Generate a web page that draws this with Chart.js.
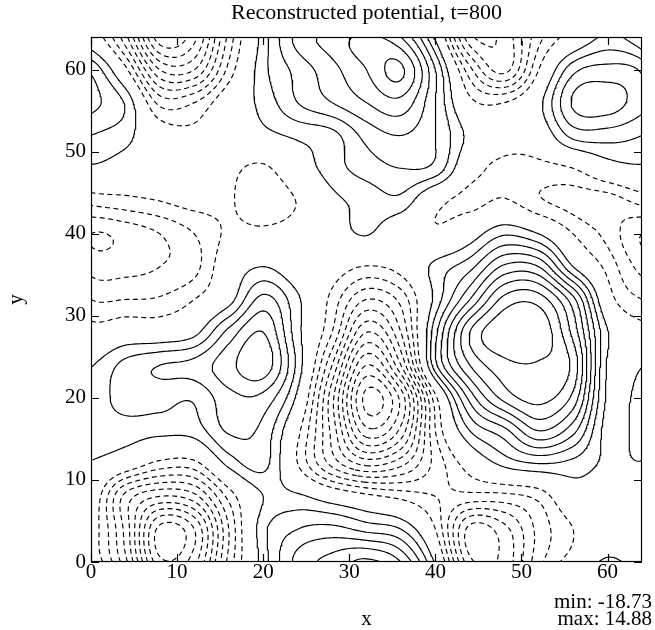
<!DOCTYPE html>
<html>
<head>
<meta charset="utf-8">
<script src="https://cdn.jsdelivr.net/npm/chart.js@4.4.1/dist/chart.umd.min.js"></script>
<style>html,body{margin:0;padding:0;background:#fff}</style>
</head>
<body>
<canvas id="c" width="655" height="630"></canvas>
<script>
// ---- texts ----
const titleText = "Reconstructed potential, t=800";
const xAxisLabel = "x";
const yAxisLabel = "y";
const minLabel = "min: -18.73";
const maxLabel = "max: 14.88";

// ---- axes ----
const xTickValues = [0, 10, 20, 30, 40, 50, 60];
const yTickValues = [0, 10, 20, 30, 40, 50, 60];
const domainSize = 64;

// ---- potential on a periodic grid (x = 0,4,...,60) ----
const gridX = [0, 4, 8, 12, 16, 20, 24, 28, 32, 36, 40, 44, 48, 52, 56, 60];
const gridY = [0, 4, 8, 12, 16, 20, 24, 28, 32, 36, 40, 44, 48, 52, 56, 60];
const phi_y00 = [0, -5.5, -14.5, -12.5, -4, 2.2, 6.5, 8, 9.3, 7.5, 1.2, -8.5, -8.5, -3.5, -0.5, 1.8];
const phi_y04 = [-0.5, -6.5, -15.5, -13.5, -4.5, 2.5, 4.5, 5, 4, 3, -1.5, -9.5, -8, -4, -1.5, 0.5];
const phi_y08 = [0, -6.5, -9, -8, -2.5, 1.5, 1.8, 0.3, -1, -2, -3, -3.5, -3.5, -2.5, 0.5, 0.5];
const phi_y12 = [1.4, 0, -2, -2, 2, 3.5, -1.5, -6.5, -9.5, -8, -4, -0.5, 2, 3, 2.5, 1.2];
const phi_y16 = [2.2, 2.3, 2, 2.2, 4.7, 4, -1, -8, -16, -13, -3, 3, 5.5, 9, 6.5, 0.9];
const phi_y20 = [2.2, 3.5, 3.5, 3.2, 5.5, 5.5, 1, -8.5, -18.5, -14.5, -2, 6.5, 11, 12.5, 10, 1.2];
const phi_y24 = [1.4, 3.5, 4.5, 5, 7, 8.5, 2.5, -6, -15, -9, 4, 10.5, 13, 13.3, 11.5, 1.3];
const phi_y28 = [-0.7, 0, 0, 1, 5, 7.5, 2, -3, -10.5, -6, 4, 12, 14.8, 14.8, 10, 1.6];
const phi_y32 = [-3, -3, -2.8, -1.5, 0.8, 5, 1.8, -2, -6, -4, 2, 7.5, 12.5, 12.8, 8, -0.5];
const phi_y36 = [-5, -5, -4.5, -3.5, 0, 1.5, 0, -0.5, -1.6, -0.8, 2, 4, 7.8, 7.5, 1.5, -2];
const phi_y40 = [-6, -5.5, -4.5, -3, -1.2, -1.0, -0.6, 0.5, 1.6, -0.3, -1.2, 0.5, 2.8, 1.5, -1.5, -3.5];
const phi_y44 = [-2.5, -2, -1.5, -0.9, -1.3, -2.6, -1.4, 1, 2, 2.5, -0.8, -2, -1.3, -2.8, -3.5, -3.8];
const phi_y48 = [1.2, 0.5, 0, 0, -1.0, -1.8, 0.3, 2.3, 3.7, 4.5, 4, -0.5, -2, -2, -1.5, 0.5];
const phi_y52 = [3, 2, -0.3, -1, 0, 1, 1.8, 2.5, 5, 6, 4.5, 1, -0.5, 0, 3.5, 3.7];
const phi_y56 = [5, 2.8, -3.5, -3, 0, 2, 4.5, 6, 7.5, 8.5, 4.5, -1, -1.5, 1, 6.2, 6.8];
const phi_y60 = [4.2, -1, -9, -9, -2.5, 2.5, 5, 7, 9, 10.8, 4.5, -4, -8, -1.5, 4, 5];

// ---- contour levels ----
const positiveLevels = [1.5, 3, 4.5, 6, 7.5, 9, 10.5, 12, 13.5];
const negativeLevels = [-1.5, -3, -4.5, -6, -7.5, -9, -10.5, -12, -13.5, -15, -16.5, -18];

// ================= contouring =================
const G = [phi_y00, phi_y04, phi_y08, phi_y12, phi_y16, phi_y20, phi_y24, phi_y28,
           phi_y32, phi_y36, phi_y40, phi_y44, phi_y48, phi_y52, phi_y56, phi_y60];
const P = gridX.length, H = gridX[1] - gridX[0];
const md = k => ((k % P) + P) % P;
function cr(p0, p1, p2, p3, t) {
  return 0.5 * (2 * p1 + (-p0 + p2) * t + (2 * p0 - 5 * p1 + 4 * p2 - p3) * t * t + (-p0 + 3 * p1 - 3 * p2 + p3) * t * t * t);
}
function field(x, y) {
  const u = x / H, v = y / H, i = Math.floor(u), j = Math.floor(v), tx = u - i, ty = v - j;
  const r = [];
  for (let m = -1; m <= 2; m++) {
    const row = G[md(j + m)];
    r.push(cr(row[md(i - 1)], row[md(i)], row[md(i + 1)], row[md(i + 2)], tx));
  }
  return cr(r[0], r[1], r[2], r[3], ty);
}
const N = 256, W = N + 1, hs = domainSize / N;
const F = new Float64Array(W * W);
for (let j = 0; j < W; j++) for (let i = 0; i < W; i++) F[j * W + i] = field(i * hs, j * hs);

function contour(L) {
  const nH = W * W, total = 2 * W * W;
  const ex = new Float64Array(total), ey = new Float64Array(total);
  const nb1 = new Int32Array(total).fill(-1), nb2 = new Int32Array(total).fill(-1);
  function hE(i, j) { const id = j * W + i, a = F[j * W + i], b = F[j * W + i + 1]; const t = (L - a) / (b - a); ex[id] = (i + t) * hs; ey[id] = j * hs; return id; }
  function vE(i, j) { const id = nH + j * W + i, a = F[j * W + i], b = F[(j + 1) * W + i]; const t = (L - a) / (b - a); ex[id] = i * hs; ey[id] = (j + t) * hs; return id; }
  function link(a, b) {
    if (nb1[a] < 0) nb1[a] = b; else nb2[a] = b;
    if (nb1[b] < 0) nb1[b] = a; else nb2[b] = a;
  }
  for (let j = 0; j < N; j++) for (let i = 0; i < N; i++) {
    const v00 = F[j * W + i], v10 = F[j * W + i + 1], v11 = F[(j + 1) * W + i + 1], v01 = F[(j + 1) * W + i];
    const c = (v00 > L ? 1 : 0) | (v10 > L ? 2 : 0) | (v11 > L ? 4 : 0) | (v01 > L ? 8 : 0);
    if (c === 0 || c === 15) continue;
    const B = () => hE(i, j), R = () => vE(i + 1, j), T = () => hE(i, j + 1), Lf = () => vE(i, j);
    switch (c) {
      case 1: case 14: link(Lf(), B()); break;
      case 2: case 13: link(B(), R()); break;
      case 3: case 12: link(Lf(), R()); break;
      case 4: case 11: link(R(), T()); break;
      case 6: case 9: link(B(), T()); break;
      case 7: case 8: link(Lf(), T()); break;
      case 5: { const cen = (v00 + v10 + v11 + v01) / 4; if (cen > L) { link(B(), R()); link(Lf(), T()); } else { link(Lf(), B()); link(R(), T()); } break; }
      case 10: { const cen = (v00 + v10 + v11 + v01) / 4; if (cen > L) { link(Lf(), B()); link(R(), T()); } else { link(B(), R()); link(Lf(), T()); } break; }
    }
  }
  const visited = new Uint8Array(total);
  const out = [];
  function trace(s) {
    let prev = -1, cur = s;
    while (cur >= 0 && !visited[cur]) {
      visited[cur] = 1;
      out.push({ x: ex[cur], y: ey[cur] });
      const n = (nb1[cur] !== prev) ? nb1[cur] : nb2[cur];
      prev = cur; cur = n;
    }
    if (cur === s) out.push({ x: ex[s], y: ey[s] });
    out.push({ x: NaN, y: NaN });
  }
  for (let e = 0; e < total; e++) if (!visited[e] && nb1[e] >= 0 && nb2[e] < 0) trace(e);
  for (let e = 0; e < total; e++) if (!visited[e] && nb1[e] >= 0) trace(e);
  return out;
}

const datasets = [];
positiveLevels.forEach(L => datasets.push({ label: 'c' + L, data: contour(L), borderColor: '#000', borderWidth: 1.15, showLine: true, pointRadius: 0, fill: false, tension: 0, spanGaps: false }));
negativeLevels.forEach(L => datasets.push({ label: 'c' + L, data: contour(L), borderColor: '#000', borderWidth: 1.15, borderDash: [5, 3.5], showLine: true, pointRadius: 0, fill: false, tension: 0, spanGaps: false }));

const serif = 'Liberation Serif';
const framePlugin = {
  id: 'frame',
  afterDatasetsDraw(chart) {
    const { ctx, chartArea: a, scales: { x, y } } = chart;
    ctx.save();
    ctx.strokeStyle = '#000'; ctx.lineWidth = 1.2; ctx.setLineDash([]);
    ctx.strokeRect(a.left + 0.5, a.top + 0.5, a.right - a.left - 1, a.bottom - a.top - 1);
    const tl = 8;
    ctx.beginPath();
    xTickValues.forEach(v => { const p = Math.round(x.getPixelForValue(v)) + 0.5; ctx.moveTo(p, a.bottom); ctx.lineTo(p, a.bottom - tl); ctx.moveTo(p, a.top); ctx.lineTo(p, a.top + tl); });
    yTickValues.forEach(v => { const p = Math.round(y.getPixelForValue(v)) + 0.5; ctx.moveTo(a.left, p); ctx.lineTo(a.left + tl, p); ctx.moveTo(a.right, p); ctx.lineTo(a.right - tl, p); });
    ctx.stroke();
    ctx.fillStyle = '#000'; ctx.font = '21px "' + serif + '"'; ctx.textAlign = 'right'; ctx.textBaseline = 'alphabetic';
    ctx.fillText(minLabel, 652, 608);
    ctx.fillText(maxLabel, 652, 625);
    ctx.restore();
  }
};

new Chart(document.getElementById('c').getContext('2d'), {
  type: 'scatter',
  data: { datasets },
  options: {
    responsive: false, animation: false, events: [], parsing: false,
    layout: { padding: { top: 0, right: 13, bottom: 0, left: 0 } },
    plugins: {
      legend: { display: false }, tooltip: { enabled: false },
      title: { display: true, text: titleText, fullSize: false, color: '#000', font: { family: serif, size: 22, weight: 'normal', lineHeight: 1.2 }, padding: { top: 0, bottom: 10.6 } }
    },
    scales: {
      x: {
        type: 'linear', min: 0, max: domainSize,
        afterBuildTicks: s => { s.ticks = xTickValues.map(v => ({ value: v })); },
        afterFit: s => { s.height = 68; },
        grid: { display: false, drawTicks: false }, border: { display: false },
        ticks: { color: '#000', font: { family: serif, size: 21 }, padding: -2, maxRotation: 0, autoSkip: false },
        title: { display: true, text: xAxisLabel, color: '#000', font: { family: serif, size: 21 }, padding: { top: 0, bottom: -2 } }
      },
      y: {
        type: 'linear', min: 0, max: domainSize,
        afterBuildTicks: s => { s.ticks = yTickValues.map(v => ({ value: v })); },
        afterFit: s => { s.width = 91; },
        grid: { display: false, drawTicks: false }, border: { display: false },
        ticks: { color: '#000', font: { family: serif, size: 21 }, padding: 5, autoSkip: false },
        title: { display: true, text: yAxisLabel, color: '#000', font: { family: serif, size: 21 }, padding: { top: 4, bottom: 0 } }
      }
    }
  },
  plugins: [framePlugin]
});
</script>
</body>
</html>
